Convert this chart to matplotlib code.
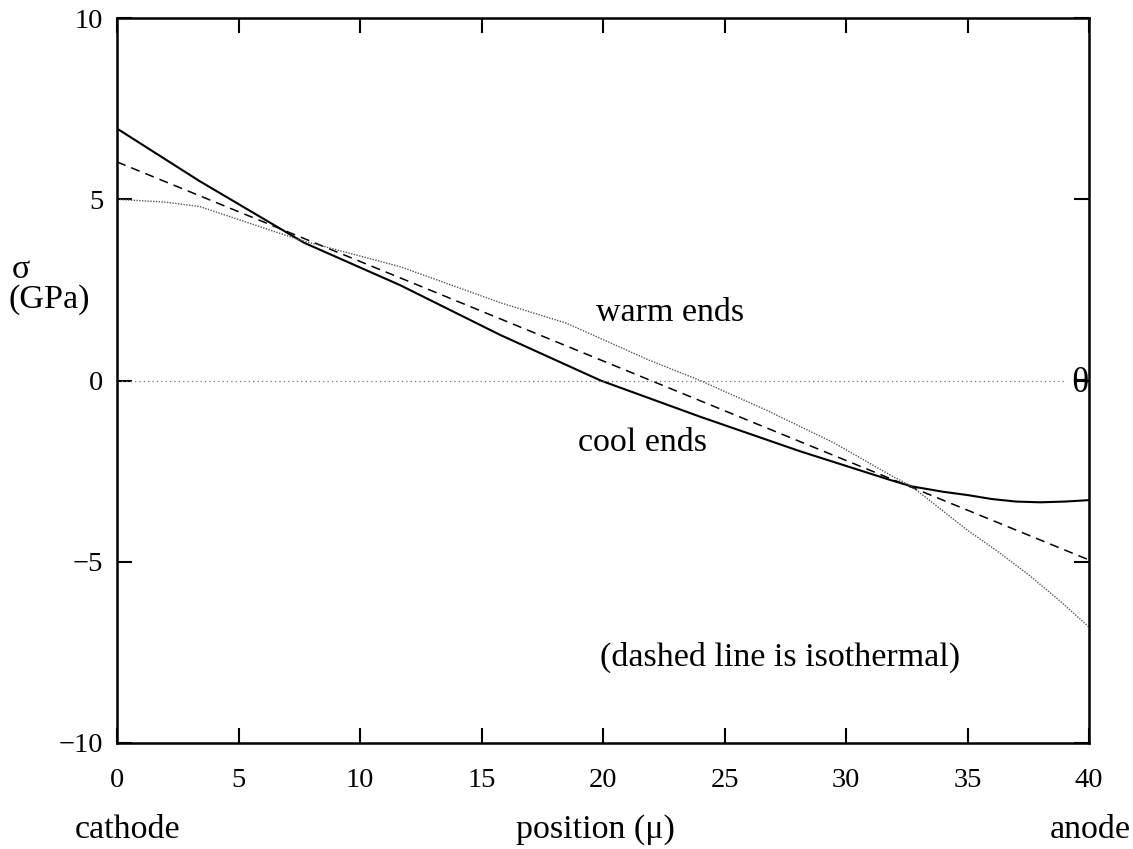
import matplotlib
matplotlib.use("Agg")
import matplotlib.pyplot as plt

plt.rcParams['font.family'] = ['Liberation Serif', 'DejaVu Serif']

# cool ends (solid)
x_cool = [0, 3.4, 7.7, 11.65, 15.76, 19.9, 24, 28.1, 31.8, 32.7, 34, 35, 36, 37, 38, 39, 40]
y_cool = [6.95, 5.5, 3.8, 2.63, 1.26, 0.0, -1.0, -1.95, -2.74, -2.92, -3.07, -3.16, -3.27, -3.34, -3.36, -3.34, -3.3]

# warm ends (dotted)
x_warm = [0, 2, 3.4, 7.5, 11.65, 15.8, 18.5, 21.9, 24, 26.7, 29.5, 31.8, 32.7, 35, 36.25, 37.5, 38.75, 40]
y_warm = [5.0, 4.92, 4.8, 3.88, 3.14, 2.14, 1.58, 0.56, 0.0, -0.81, -1.72, -2.6, -2.92, -4.13, -4.72, -5.35, -6.05, -6.8]

# isothermal (dashed)
x_iso = [0, 40]
y_iso = [6.03, -4.95]

xticks = [0, 5, 10, 15, 20, 25, 30, 35, 40]
yticks = [-10, -5, 0, 5, 10]

W, H = 1133, 849
fig = plt.figure(figsize=(W / 100, H / 100), dpi=100)
ax = fig.add_axes([117 / W, 1 - 743 / H, (1089 - 117) / W, (743 - 18) / H])

ax.plot(x_cool, y_cool, color='black', lw=1.5, ls='-')
ax.plot(x_iso, y_iso, color='black', lw=1.1, ls=(0, (6, 4)))
ax.plot(x_warm, y_warm, color='#555555', lw=1.0, ls=(0, (1, 1)))
ax.plot([0, 39.0], [0, 0], color='#777777', lw=0.9, ls=(0, (1, 2.5)))

ax.set_xlim(0, 40)
ax.set_ylim(-10, 10)
ax.set_xticks(xticks)
ax.set_yticks(yticks)
ax.set_yticklabels(['\u221210', '\u22125', '0', '5', '10'])
ax.tick_params(direction='in', length=11, width=1.5, top=True, right=True,
               labelsize=20.5)
ax.tick_params(axis='x', pad=18)
ax.tick_params(axis='y', pad=10)
for s in ax.spines.values():
    s.set_linewidth(1.8)

def ftext(px, py, s, ha='center', size=24.5):
    fig.text(px / W, 1 - py / H, s, ha=ha, va='center', fontsize=size)

ftext(12, 270, '\u03c3', ha='left')
ftext(8, 300, '(GPa)', ha='left')
ftext(670, 313, 'warm ends')
ftext(643, 443, 'cool ends')
ftext(780, 657, '(dashed line is isothermal)')
ftext(1089, 383, '\u03b8', ha='right', size=26)
ftext(75, 830, 'cathode', ha='left')
ftext(595, 830, 'position (\u03bc)')
ftext(1131, 830, 'anode', ha='right')

fig.savefig('out.png', dpi=100)
